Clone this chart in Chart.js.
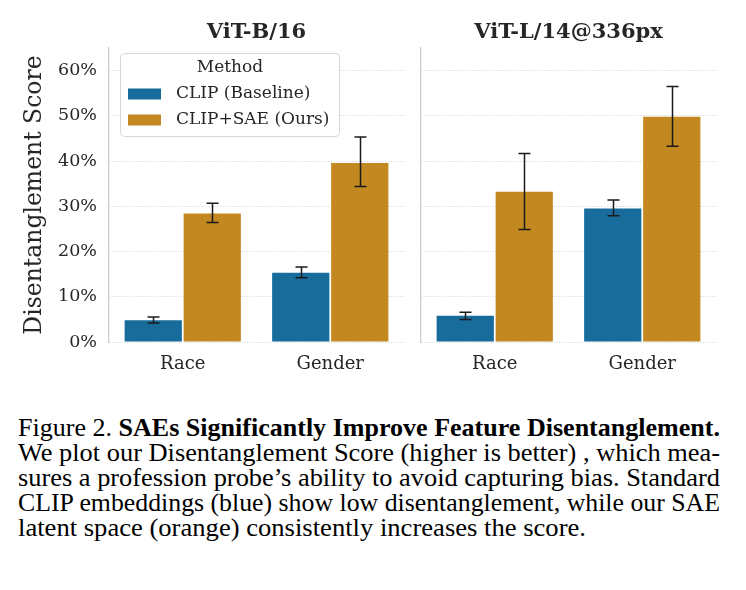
<!DOCTYPE html>
<html>
<head>
<meta charset="utf-8">
<script src="https://cdn.jsdelivr.net/npm/chart.js@4.4.0/dist/chart.umd.min.js"></script>
<style>
    html, body { margin: 0; padding: 0; background: #fff; }
    body { width: 746px; height: 590px; position: relative; overflow: hidden; }
    #leftWrap { position: absolute; left: 0; top: 0; width: 410px; height: 390px; }
    #rightWrap { position: absolute; left: 410px; top: 0; width: 336px; height: 390px; }
    #caption {
        position: absolute; left: 18px; top: 415px; width: 720px;
        font-family: 'Liberation Serif', 'Times New Roman', serif;
        font-size: 24.5px; line-height: 25px; color: #000;
    }
    #caption .ln { white-space: nowrap; height: 25px; }
    #caption .ln span { display: inline-block; transform-origin: 0 0; }
</style>
</head>
<body>
<div id="leftWrap"><canvas id="leftChart" width="410" height="390"></canvas></div>
<div id="rightWrap"><canvas id="rightChart" width="336" height="390"></canvas></div>
<div id="caption">
    <div class="ln"><span data-w="702">Figure 2. <b>SAEs Significantly Improve Feature Disentanglement.</b></span></div>
    <div class="ln"><span data-w="702">We plot our Disentanglement Score (higher is better) , which mea-</span></div>
    <div class="ln"><span data-w="702">sures a profession probe’s ability to avoid capturing bias. Standard</span></div>
    <div class="ln"><span data-w="702">CLIP embeddings (blue) show low disentanglement, while our SAE</span></div>
    <div class="ln"><span data-w="568">latent space (orange) consistently increases the score.</span></div>
</div>
<script>
// Data (percent)
const categories = ['Race', 'Gender'];
const methods = ['CLIP (Baseline)', 'CLIP+SAE (Ours)'];
const panelTitles = ['ViT-B/16', 'ViT-L/14@336px'];

// ViT-B/16
const b16Baseline = [4.8, 15.3];
const b16BaselineLo = [4.2, 14.2];
const b16BaselineHi = [5.5, 16.6];
const b16Sae = [28.4, 39.6];
const b16SaeLo = [26.4, 34.4];
const b16SaeHi = [30.7, 45.3];

// ViT-L/14@336px
const l14Baseline = [5.8, 29.5];
const l14BaselineLo = [5.0, 27.9];
const l14BaselineHi = [6.6, 31.4];
const l14Sae = [33.2, 49.8];
const l14SaeLo = [24.9, 43.3];
const l14SaeHi = [41.7, 56.5];

const yTicks = [0, 10, 20, 30, 40, 50, 60];
const yMax = 65;

const blue = '#176C9C';
const orange = '#C38820';
const textColor = '#262626';
const serif = "'DejaVu Serif', serif";

// squeeze/stretch each caption line to its width in the figure
document.querySelectorAll('#caption .ln span').forEach(span => {
    const w = span.getBoundingClientRect().width;
    span.style.transform = 'scaleX(' + (Number(span.dataset.w) / w) + ')';
});

// error bars drawn from the lo/hi arrays attached to each dataset
const errorBarPlugin = {
    id: 'errorBars',
    afterDatasetsDraw(chart) {
        const ctx = chart.ctx;
        const yScale = chart.scales.y;
        ctx.save();
        ctx.strokeStyle = '#1a1a1a';
        ctx.lineWidth = 1.5;
        chart.data.datasets.forEach((ds, di) => {
            const meta = chart.getDatasetMeta(di);
            meta.data.forEach((bar, i) => {
                const x = Math.round(bar.x) + 0.5;
                const yLo = yScale.getPixelForValue(ds.errLo[i]);
                const yHi = yScale.getPixelForValue(ds.errHi[i]);
                ctx.beginPath();
                ctx.moveTo(x, yLo);
                ctx.lineTo(x, yHi);
                ctx.moveTo(x - 6, yLo);
                ctx.lineTo(x + 6, yLo);
                ctx.moveTo(x - 6, yHi);
                ctx.lineTo(x + 6, yHi);
                ctx.stroke();
            });
        });
        ctx.restore();
    }
};

// panel title centred over the plot area
const panelTitlePlugin = {
    id: 'panelTitle',
    afterDraw(chart, args, opts) {
        const ctx = chart.ctx;
        const area = chart.chartArea;
        ctx.save();
        ctx.font = 'bold 21px ' + serif;
        ctx.fillStyle = textColor;
        ctx.textAlign = 'center';
        ctx.textBaseline = 'middle';
        ctx.fillText(opts.text, (area.left + area.right) / 2, 33);
        ctx.restore();
    }
};

// legend box inside the left panel
const boxLegendPlugin = {
    id: 'boxLegend',
    afterDraw(chart, args, opts) {
        if (!opts.show) return;
        const ctx = chart.ctx;
        const area = chart.chartArea;
        const x0 = area.left + 11, y0 = 53, w = 219, h = 83;
        ctx.save();
        ctx.beginPath();
        ctx.roundRect(x0 + 0.5, y0 + 0.5, w, h, 4);
        ctx.fillStyle = 'rgba(255,255,255,0.85)';
        ctx.fill();
        ctx.strokeStyle = '#d6d6d6';
        ctx.lineWidth = 1;
        ctx.stroke();

        ctx.fillStyle = textColor;
        ctx.font = '17px ' + serif;
        ctx.textAlign = 'center';
        ctx.textBaseline = 'middle';
        ctx.fillText('Method', x0 + 110, y0 + 15);

        ctx.textAlign = 'left';
        chart.data.datasets.forEach((ds, i) => {
            const cy = y0 + 41 + i * 26;
            ctx.fillStyle = ds.backgroundColor;
            ctx.fillRect(x0 + 8, cy - 5.5, 33, 11);
            ctx.fillStyle = textColor;
            ctx.fillText(ds.label, x0 + 56, cy);
        });
        ctx.restore();
    }
};

function makeChart(canvasId, title, base, baseLo, baseHi, sae, saeLo, saeHi, isLeft) {
    const ctx = document.getElementById(canvasId).getContext('2d');
    return new Chart(ctx, {
        type: 'bar',
        data: {
            labels: categories,
            datasets: [
                {
                    label: methods[0],
                    data: base,
                    errLo: baseLo,
                    errHi: baseHi,
                    backgroundColor: blue
                },
                {
                    label: methods[1],
                    data: sae,
                    errLo: saeLo,
                    errHi: saeHi,
                    backgroundColor: orange
                }
            ]
        },
        options: {
            responsive: false,
            animation: false,
            events: [],
            categoryPercentage: 0.8,
            barPercentage: 0.97,
            layout: {
                padding: { top: 48, right: isLeft ? 6 : 30, left: 0, bottom: 0 }
            },
            plugins: {
                legend: { display: false },
                tooltip: { enabled: false },
                panelTitle: { text: title },
                boxLegend: { show: isLeft }
            },
            scales: {
                x: {
                    grid: { display: false },
                    border: { display: false },
                    ticks: {
                        color: textColor,
                        font: { family: serif, size: 18 },
                        padding: 4
                    },
                    afterFit: s => { s.height = 48; }
                },
                y: {
                    min: 0,
                    max: yMax,
                    afterBuildTicks: s => {
                        s.ticks = yTicks.map(v => ({ value: v }));
                    },
                    grid: {
                        color: '#cfcfcf',
                        lineWidth: 1,
                        drawTicks: false
                    },
                    border: {
                        display: true,
                        color: '#cccccc',
                        width: 1.25,
                        dash: [1, 2]
                    },
                    ticks: {
                        display: isLeft,
                        color: textColor,
                        font: { family: serif, size: 17.5 },
                        padding: 12,
                        callback: v => v + '%'
                    },
                    title: {
                        display: isLeft,
                        text: 'Disentanglement Score',
                        color: textColor,
                        font: { family: serif, size: 23.5 },
                        padding: { top: 21, bottom: 0 }
                    },
                    afterFit: s => { s.width = isLeft ? 109 : 11; }
                }
            }
        },
        plugins: [errorBarPlugin, panelTitlePlugin, boxLegendPlugin]
    });
}

makeChart('leftChart', panelTitles[0], b16Baseline, b16BaselineLo, b16BaselineHi,
    b16Sae, b16SaeLo, b16SaeHi, true);
makeChart('rightChart', panelTitles[1], l14Baseline, l14BaselineLo, l14BaselineHi,
    l14Sae, l14SaeLo, l14SaeHi, false);
</script>
</body>
</html>
